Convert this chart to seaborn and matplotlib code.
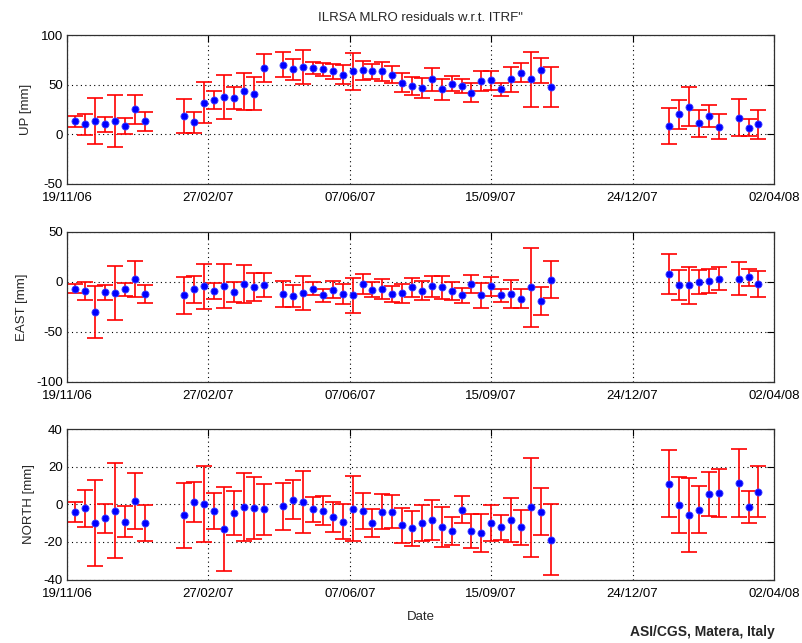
import matplotlib
matplotlib.use("Agg")
import matplotlib.pyplot as plt
import matplotlib.dates as mdates
import numpy as np
import pandas as pd
import seaborn as sns

dates = ["2006-11-25", "2006-12-02", "2006-12-09", "2006-12-16", "2006-12-23", "2006-12-30",
         "2007-01-06", "2007-01-13",
         "2007-02-10", "2007-02-17", "2007-02-24", "2007-03-03", "2007-03-10", "2007-03-17",
         "2007-03-24", "2007-03-31", "2007-04-07",
         "2007-04-21", "2007-04-28", "2007-05-05", "2007-05-12", "2007-05-19", "2007-05-26",
         "2007-06-02", "2007-06-09", "2007-06-16", "2007-06-23", "2007-06-30", "2007-07-07",
         "2007-07-14", "2007-07-21", "2007-07-28", "2007-08-04", "2007-08-11", "2007-08-18",
         "2007-08-25", "2007-09-01", "2007-09-08", "2007-09-15", "2007-09-22", "2007-09-29",
         "2007-10-06", "2007-10-13", "2007-10-20", "2007-10-27",
         "2008-01-19", "2008-01-26", "2008-02-02", "2008-02-09", "2008-02-16", "2008-02-23",
         "2008-03-08", "2008-03-15", "2008-03-22"]

up = [13.3, 10, 13.3, 10, 13.3, 8.7, 25.3, 13.3,
      18.7, 12, 32, 34.3, 37.7, 36.7, 43.3, 41, 66.7,
      70, 65.3, 67.7, 66.7, 65.3, 63.3, 60, 63.3, 64.3, 63.3, 63.3, 60,
      52, 48.7, 46.7, 55.3, 45.3, 51, 48.7, 42, 53.3, 54.3, 45.3, 55.3,
      62, 55.3, 64.3, 47.7,
      8.7, 20, 27.7, 11, 18.7, 7.7, 16.7, 6.7, 10]
up_err = [5.5, 10.5, 23, 7.3, 26, 8, 14.7, 9.5,
          17.3, 10.7, 20.7, 9, 22.3, 11, 18.8, 16.7, 13.8,
          12.7, 10.7, 17, 6.2, 7, 7.8, 9.3, 18.3, 9.5, 7.8, 9.5, 8.8,
          9.5, 8.8, 10, 11.2, 10.7, 7.7, 6.7, 9.3, 10, 9.5, 6.7, 12.2,
          9.5, 27.8, 12.8, 20,
          18.3, 15, 19.5, 13.8, 11.2, 12.8, 18.8, 8.3, 14.5]

east = [-6.7, -8.7, -30, -10, -10.7, -7.3, 3.3, -12,
        -13.3, -7.3, -4, -8.7, -4, -10, -2, -5.3, -2.7,
        -12, -14, -10.7, -6.7, -13.3, -7.7, -12, -13.3, -2, -7.7, -6.7, -12,
        -11, -5.3, -8.7, -4.3, -5.3, -8.7, -13.3, -2, -13.3, -4.3, -13.3, -12,
        -16.7, -5.3, -18.7, 2.3,
        8, -3.3, -3.3, 0, 1.3, 3.3, 3.3, 4.7, -2]
east_err = [4.5, 8.8, 26, 7.5, 26.8, 6.8, 18, 9.3,
            18.3, 13.3, 22.5, 8, 22, 9.7, 19.2, 14, 11.8,
            12.7, 11, 17, 6.7, 6.7, 8.3, 10, 17.7, 9.7, 7.7, 10, 7.8,
            9.5, 9.8, 9.3, 10.5, 11.2, 8.8, 7.7, 9.3, 12.8, 9.3, 6.2, 13.8,
            9.3, 39.3, 13.8, 18.3,
            20, 15, 18.3, 12.2, 12.2, 11.7, 16.7, 8.8, 12.7]

north = [-3.9, -2.1, -10, -7.5, -3.4, -9.3, 1.8, -10,
         -5.9, 1.2, 0.2, -3.4, -13.3, -4.6, -1.3, -2.1, -2.7,
         -1.1, 2.5, 1.2, -2.7, -3.4, -6.9, -9.3, -2.3, -3.4, -10, -3.9, -3.9,
         -11.2, -12.8, -10, -8.4, -11.9, -14.2, -2.9, -14.2, -15.3, -10, -12.3, -8.4,
         -12.3, -1.6, -3.9, -18.9,
         10.8, -0.4, -5.9, -2.9, 5.5, 6, 11.4, -1.6, 6.7]
north_err = [5.3, 9.8, 22.9, 7.7, 25.2, 8.2, 14.8, 9.6,
             17.2, 10.7, 20.2, 9.5, 22.3, 11.6, 18.1, 16.4, 13.7,
             12.4, 10.4, 16.5, 6.5, 7.7, 8, 9.4, 17.1, 9.5, 7.4, 9.4, 8.9,
             9.2, 9.4, 9.8, 10.7, 10.7, 7.6, 7.2, 9.2, 10, 9.8, 6.5, 11.6,
             9.5, 26.2, 12.7, 18.8,
             17.8, 15.1, 19.6, 12.6, 11.9, 12.6, 18, 8.4, 13.5]

tick_labels = ["19/11/06", "27/02/07", "07/06/07", "15/09/07", "24/12/07", "02/04/08"]
panel_labels = ["UP [mm]", "EAST [mm]", "NORTH [mm]"]
panel_ylims = [(-50, 100), (-100, 50), (-40, 40)]
panel_yticks = [[-50, 0, 50, 100], [-100, -50, 0, 50], [-40, -20, 0, 20, 40]]

sns.set_style("white")
plt.rcParams['font.family'] = ['Liberation Sans', 'DejaVu Sans']
plt.rcParams['font.size'] = 9
plt.rcParams['axes.unicode_minus'] = False

df = pd.DataFrame({"date": pd.to_datetime(dates), "UP": up, "EAST": east, "NORTH": north,
                   "UP_err": up_err, "EAST_err": east_err, "NORTH_err": north_err})

fig = plt.figure(figsize=(8.03, 6.43), dpi=100)
W, H = 803, 643
boxes = [(35, 184), (232, 382), (429, 579.5)]
tick_dates = pd.to_datetime(tick_labels, format="%d/%m/%y")

for i, (name, (top, bot)) in enumerate(zip(["UP", "EAST", "NORTH"], boxes)):
    ax = fig.add_axes([67 / W, (H - bot) / H, (774 - 67) / W, (bot - top) / H])
    ax.errorbar(df["date"], df[name], yerr=df[name + "_err"], fmt="none",
                ecolor="#ff0000", elinewidth=1.2, capsize=5.5, capthick=1.2, zorder=2)
    sns.scatterplot(data=df, x="date", y=name, ax=ax, color="#0000ff", marker="o",
                    s=26, edgecolor="#4040ff", linewidth=0.6, zorder=3)
    ax.set_xlim(tick_dates[0], tick_dates[-1])
    ax.set_ylim(*panel_ylims[i])
    ax.set_yticks(panel_yticks[i])
    ax.set_xticks(tick_dates)
    ax.set_xticklabels(tick_labels)
    ax.set_ylabel(panel_labels[i], fontsize=9.5, labelpad=6)
    ax.set_xlabel("")
    ax.grid(True, color="black", linestyle=(0, (1, 3)), linewidth=0.8)
    ax.tick_params(direction="in", length=5, width=0.8, top=True, right=True,
                   labelsize=9.5, colors="black", pad=3)
    ax.tick_params(axis="x", pad=6)
    for sp in ax.spines.values():
        sp.set_color("#303030")
        sp.set_linewidth(0.9)
    if i == 0:
        ax.set_title('ILRSA MLRO residuals w.r.t. ITRF"', fontsize=9.5, pad=10)
    if i == 2:
        ax.set_xlabel("Date", fontsize=9.5, labelpad=8)

fig.text(775 / W, 1 - 632 / H, "ASI/CGS, Matera, Italy", ha="right", va="center",
         fontsize=10, fontweight="bold")

fig.savefig("out.png", dpi=100, facecolor="white")
